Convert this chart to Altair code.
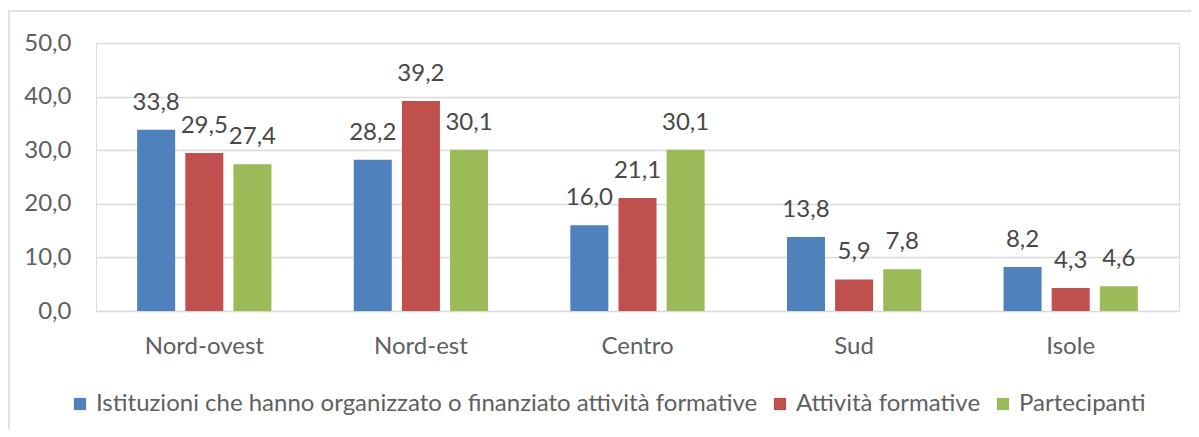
import altair as alt
import pandas as pd

categories = ["Nord-ovest", "Nord-est", "Centro", "Sud", "Isole"]
series = [
    "Istituzioni che hanno organizzato o finanziato attività formative",
    "Attività formative",
    "Partecipanti",
]
istituzioni = [33.8, 28.2, 16.0, 13.8, 8.2]
attivita = [29.5, 39.2, 21.1, 5.9, 4.3]
partecipanti = [27.4, 30.1, 30.1, 7.8, 4.6]
colors = ["#4F81BD", "#C0504D", "#9BBB59"]
y_ticks = [0, 10, 20, 30, 40, 50]

rows = []
for s, vals in zip(series, [istituzioni, attivita, partecipanti]):
    for c, v in zip(categories, vals):
        rows.append({"categoria": c, "serie": s, "valore": v})
df = pd.DataFrame(rows)

FONT = "Lato"
FS = 24
W, H = 1083, 268

base = alt.Chart(df).transform_calculate(
    etichetta="replace(format(datum.valore, '.1f'), '.', ',')"
)

x = alt.X(
    "categoria:N",
    sort=categories,
    scale=alt.Scale(paddingInner=0.38, paddingOuter=0.19),
    axis=alt.Axis(
        title=None, labelAngle=0, ticks=False, domain=False,
        labelFontSize=FS, labelColor="#606060", labelFont=FONT, labelPadding=23,
    ),
)
xo = alt.XOffset("serie:N", sort=series, scale=alt.Scale(paddingInner=0.21, paddingOuter=0))
y = alt.Y(
    "valore:Q",
    scale=alt.Scale(domain=[0, 50], nice=False),
    axis=alt.Axis(
        title=None, values=y_ticks, grid=True, gridColor="#d9d9d9", gridWidth=1.4,
        domain=False, ticks=False, labelFontSize=FS, labelColor="#606060", labelFont=FONT,
        labelPadding=25, labelExpr="replace(format(datum.value, '.1f'), '.', ',')",
    ),
)

bars = base.mark_bar().encode(
    x=x, xOffset=xo, y=y,
    color=alt.Color(
        "serie:N",
        sort=series,
        scale=alt.Scale(domain=series, range=colors),
        legend=alt.Legend(
            title=None, orient="none", direction="horizontal",
            legendX=-28, legendY=349,
            symbolType="square", symbolSize=150, symbolStrokeWidth=0,
            labelFontSize=FS, labelColor="#606060", labelFont=FONT,
            labelOffset=4, columnPadding=10, labelLimit=1000,
        ),
    ),
)

labels = base.mark_text(
    dy=-20, baseline="alphabetic", fontSize=FS, color="#484848", font=FONT
).encode(x=x, xOffset=xo, y=y, text="etichetta:N")

border = alt.Chart(pd.DataFrame({"a": [0]})).mark_rect(
    filled=False, stroke="#d9d9d9", strokeWidth=1.5
).encode(
    x=alt.value(-87), x2=alt.value(W + 60), y=alt.value(-32), y2=alt.value(H + 200)
)

chart = alt.layer(border, bars, labels).properties(
    width=W, height=H,
    autosize=alt.AutoSizeParams(type="none"),
    padding={"left": 88, "top": 35, "right": 12, "bottom": 118},
).configure_view(stroke=None).configure(background="white")

chart.save("out.html", embed_options={"renderer": "svg", "actions": False})
